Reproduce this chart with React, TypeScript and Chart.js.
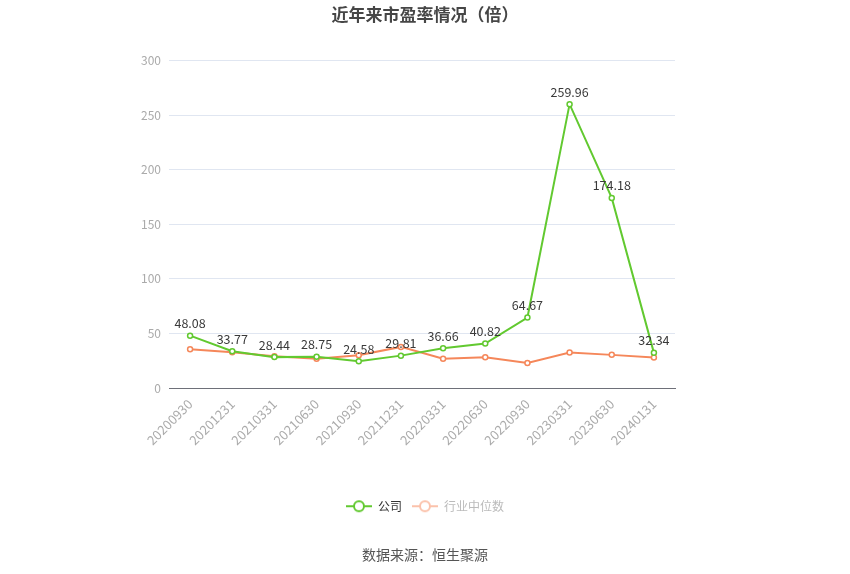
import { useEffect, useRef } from "react"
import { Chart, registerables } from "chart.js"

Chart.register(...registerables)

const periods = [
  "20200930", "20201231", "20210331", "20210630", "20210930", "20211231",
  "20220331", "20220630", "20220930", "20230331", "20230630", "20240131",
]
const companyPE = [48.08, 33.77, 28.44, 28.75, 24.58, 29.81, 36.66, 40.82, 64.67, 259.96, 174.18, 32.34]
const industryPE = [35.7, 32.8, 29.3, 27.0, 30.2, 37.8, 26.9, 28.4, 23.0, 32.6, 30.5, 28.0]
const yTicks = [0, 50, 100, 150, 200, 250, 300]

const GREEN = "#62c930"
const ORANGE = "#f5875a"
const FONT = "'Noto Sans CJK SC', 'Noto Sans', sans-serif"

// small line + hollow circle icon for the legend
function legendIcon(color: string) {
  const c = document.createElement("canvas")
  c.width = 26
  c.height = 14
  const ctx = c.getContext("2d")!
  ctx.strokeStyle = color
  ctx.lineWidth = 2
  ctx.beginPath()
  ctx.moveTo(0, 7)
  ctx.lineTo(26, 7)
  ctx.stroke()
  ctx.fillStyle = "#fff"
  ctx.beginPath()
  ctx.arc(13, 7, 5, 0, Math.PI * 2)
  ctx.fill()
  ctx.stroke()
  return c
}

const valueLabels = {
  id: "valueLabels",
  afterDatasetsDraw(chart: Chart) {
    const ctx = chart.ctx
    const meta = chart.getDatasetMeta(0)
    ctx.save()
    ctx.font = `12.5px ${FONT}`
    ctx.fillStyle = "#3a3a3a"
    ctx.textAlign = "center"
    ctx.textBaseline = "bottom"
    meta.data.forEach((pt, i) => {
      ctx.fillText(companyPE[i].toFixed(2), pt.x, pt.y - 6)
    })
    ctx.restore()
  },
}

export default function App() {
  const canvasRef = useRef<HTMLCanvasElement>(null)
  const chartRef = useRef<Chart | null>(null)

  useEffect(() => {
    if (!canvasRef.current) return
    if (chartRef.current) chartRef.current.destroy()

    const greenIcon = legendIcon(GREEN)
    const orangeIcon = legendIcon("#fbc2ab")

    chartRef.current = new Chart(canvasRef.current, {
      type: "line",
      data: {
        labels: periods,
        datasets: [
          {
            label: "公司",
            data: companyPE,
            borderColor: GREEN,
            backgroundColor: "#fff",
            borderWidth: 2,
            pointRadius: 2.5,
            pointBorderWidth: 1.5,
            pointBorderColor: GREEN,
            pointBackgroundColor: "#fff",
            tension: 0,
          },
          {
            label: "行业中位数",
            data: industryPE,
            borderColor: ORANGE,
            backgroundColor: "#fff",
            borderWidth: 2,
            pointRadius: 2.5,
            pointBorderWidth: 1.5,
            pointBorderColor: ORANGE,
            pointBackgroundColor: "#fff",
            tension: 0,
          },
        ],
      },
      options: {
        animation: false,
        responsive: false,
        layout: { padding: { left: 100, right: 100, top: 0, bottom: 8 } },
        scales: {
          x: {
            offset: true,
            grid: { display: false, tickLength: 5, color: "#6e7079" },
            border: { color: "#6e7079" },
            ticks: {
              color: "#aaa",
              font: { size: 13, family: FONT },
              maxRotation: 45,
              minRotation: 45,
              autoSkip: false,
            },
            afterFit: (s: any) => { s.height = 102 },
          },
          y: {
            min: 0,
            max: 300,
            afterBuildTicks: (s: any) => { s.ticks = yTicks.map((v) => ({ value: v })) },
            grid: { color: "#e0e6f1", drawTicks: false },
            border: { display: false },
            ticks: { color: "#aaa", font: { size: 12, family: FONT }, padding: 8 },
            afterFit: (s: any) => { s.width = 69 },
          },
          // empty right-hand axis, only keeps the plot where the reference has it
          spacer: {
            position: "right",
            min: 0,
            max: 300,
            grid: { display: false },
            border: { display: false },
            ticks: { display: false },
            afterFit: (s: any) => { s.width = 75 },
          },
        },
        plugins: {
          title: {
            display: true,
            text: "近年来市盈率情况（倍）",
            color: "#464646",
            font: { size: 17, weight: "bold", family: FONT },
            padding: { top: 4, bottom: 36 },
          },
          subtitle: {
            display: true,
            position: "bottom",
            text: "数据来源：恒生聚源",
            color: "#555",
            font: { size: 14, family: FONT },
            padding: { top: 24, bottom: 3 },
          },
          legend: {
            position: "bottom",
            labels: {
              usePointStyle: true,
              pointStyleWidth: 26,
              font: { size: 12, family: FONT },
              padding: 10,
              generateLabels: () => [
                { text: "公司", pointStyle: greenIcon, fontColor: "#333", datasetIndex: 0, lineWidth: 0 } as any,
                { text: "行业中位数", pointStyle: orangeIcon, fontColor: "#bbb", datasetIndex: 1, lineWidth: 0 } as any,
              ],
            },
          },
          tooltip: { enabled: false },
        },
      },
      plugins: [valueLabels],
    })

    return () => {
      if (chartRef.current) {
        chartRef.current.destroy()
        chartRef.current = null
      }
    }
  }, [])

  return (
    <div style={{ position: "fixed", left: 0, top: 0, width: 850, height: 574, background: "#fff" }}>
      <canvas ref={canvasRef} width={850} height={574} style={{ width: 850, height: 574 }}></canvas>
    </div>
  )
}
